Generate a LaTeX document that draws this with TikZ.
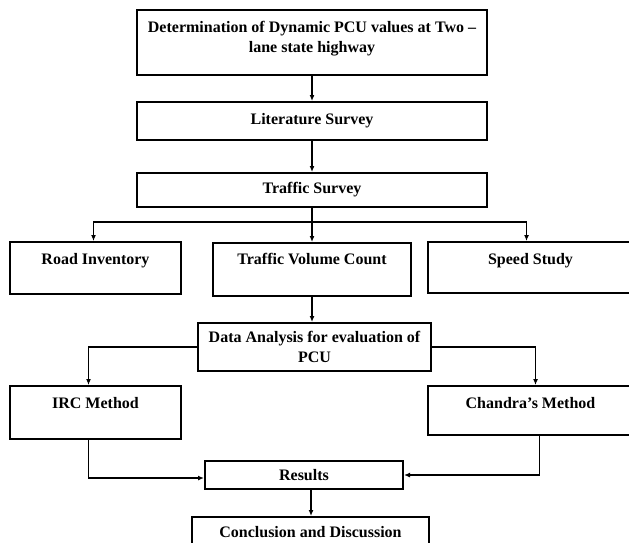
\documentclass[tikz,border=0pt]{standalone}
\usepackage{fontspec}
\setmainfont{Liberation Serif}
\usetikzlibrary{arrows.meta,calc,positioning}
\tikzset{%
	box/.style   = {draw, rectangle, line width=2pt, inner sep=0pt, align=center, font=\bfseries\fontsize{16}{20}\selectfont},
	arrow/.style = {line width=1.2pt,-{Latex[length=6pt,width=5pt]}},
}

\begin{document}
\begin{tikzpicture}[x=1pt,y=-1pt]
	\useasboundingbox (0,0) rectangle (629,542);
	\clip (0,0) rectangle (629,542);
	\fill[white] (0,0) rectangle (629,542);
	
	\node[box, minimum width=350pt, minimum height=65pt, text height=42pt, text depth=23pt] (title) at (312,42.5) {Determination of Dynamic PCU values at Two --\\lane state highway};
	\node[box, minimum width=350pt, minimum height=38pt] (lit) at (312,121) {Literature Survey};
	\node[box, minimum width=350pt, minimum height=34pt] (traffic) at (312,190) {Traffic Survey};
	
	\node[box, minimum width=171pt, minimum height=52pt, text height=22pt, text depth=30pt] (road) at (95.5,268) {Road Inventory};
	\node[box, minimum width=198pt, minimum height=53pt, text height=21pt, text depth=32pt] (tvc) at (312,269.5) {Traffic Volume Count};
	\node[box, minimum width=205pt, minimum height=51pt, text height=22pt, text depth=29pt] (speed) at (530.5,267.5) {Speed Study};
	
	\node[box, minimum width=233pt, minimum height=48pt] (data) at (314.5,347) {Data Analysis for evaluation of\\PCU};
	
	\node[box, minimum width=171pt, minimum height=53pt, text height=22pt, text depth=31pt] (irc) at (95.5,412.5) {IRC Method};
	\node[box, minimum width=205pt, minimum height=49pt, text height=22pt, text depth=27pt] (chandra) at (530.5,410.5) {Chandra’s Method};
	
	\node[box, minimum width=198pt, minimum height=28pt] (results) at (304,475) {Results};
	\node[box, minimum width=237pt, minimum height=40pt, text height=20pt, text depth=20pt] (concl) at (310.5,537) {Conclusion and Discussion};
	
	\draw[arrow] (title) -- (lit);
	\draw[arrow] (lit) -- (traffic);
	\draw[arrow] (traffic) -- (tvc);
	\draw[arrow] (traffic.south) -- ++(0,14) -| ([xshift=-2pt]road.north);
	\draw[arrow] (traffic.south) -- ++(0,14) -| ([xshift=-4pt]speed.north);
	
	\draw[arrow] (tvc.south) -- (tvc.south |- data.north);
	\draw[arrow] (data.west) -| ([xshift=-7pt]irc.north);
	\draw[arrow] (data.east) -| ([xshift=5pt]chandra.north);
	
	\draw[arrow] ([xshift=-7pt]irc.south) |- ([yshift=-3pt]results.west);
	\draw[arrow] ([xshift=9pt]chandra.south) |- (results.east);
	\draw[arrow] ([xshift=7pt]results.south) -- ([xshift=7pt]results.south |- concl.north);
\end{tikzpicture}
\end{document}
